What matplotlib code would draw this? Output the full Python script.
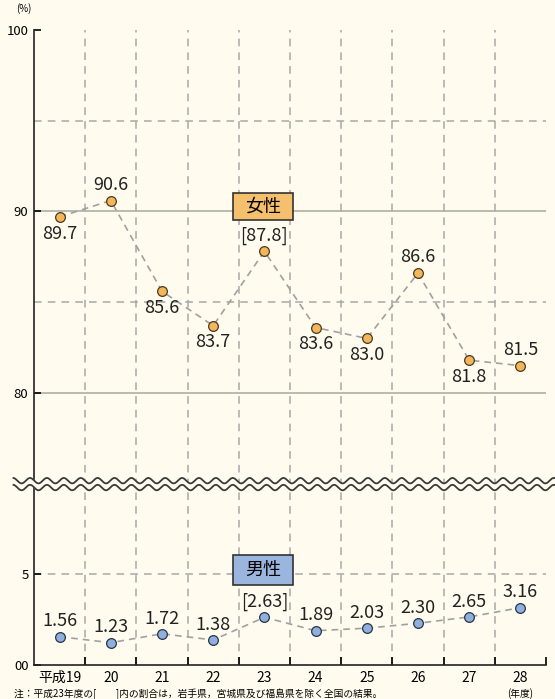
import numpy as np
import matplotlib.pyplot as plt
from matplotlib.patches import Rectangle

plt.rcParams['font.family'] = ['Noto Sans CJK JP', 'DejaVu Sans']

#%% data
years = ['平成19', '20', '21', '22', '23', '24', '25', '26', '27', '28']
female = [89.7, 90.6, 85.6, 83.7, 87.8, 83.6, 83.0, 86.6, 81.8, 81.5]
male = [1.56, 1.23, 1.72, 1.38, 2.63, 1.89, 2.03, 2.30, 2.65, 3.16]
female_txt = ['89.7', '90.6', '85.6', '83.7', '[87.8]', '83.6', '83.0', '86.6', '81.8', '81.5']
male_txt = ['1.56', '1.23', '1.72', '1.38', '[2.63]', '1.89', '2.03', '2.30', '2.65', '3.16']
female_above = [False, True, False, False, True, False, False, True, False, True]

shift = 65  # upper part (75-100) drawn at value - 65
bg = '#fffcef'

fig = plt.figure(figsize=(5.55, 6.99), dpi=100, facecolor=bg)
ax = fig.add_axes([34/555, 34/699, 512/555, 635/699])
ax.set_facecolor(bg)
ax.set_xlim(-0.5, 9.5)
ax.set_ylim(0, 35)

x = np.arange(len(years))
fy = np.array(female) - shift

# grid
for g in [25, 15]:
    ax.axhline(g, color='#b4b4aa', lw=1.3, zorder=1)
for g in [30, 20, 5]:
    ax.axhline(g, color='#a8a8a8', lw=1.1, ls=(0, (5, 4)), zorder=1)
for b in np.arange(0.5, 9.5, 1):
    ax.axvline(b, color='#a8a8a8', lw=1.1, ls=(0, (5, 4)), zorder=1)

# break lines
xw = np.linspace(-0.9, 9.75, 600)
w = 0.15 * np.sin(xw * 2 * np.pi / 0.33)
ax.fill_between(xw, 9.78 + w, 10.16 + w, color=bg, zorder=3, clip_on=False)
ax.plot(xw, 10.16 + w, color='#3a3a3a', lw=1.3, zorder=4, clip_on=False)
ax.plot(xw, 9.78 + w, color='#3a3a3a', lw=1.3, zorder=4, clip_on=False)

# series
ax.plot(x, fy, color='#a0a0a0', lw=1.2, ls=(0, (4, 3)), zorder=5)
ax.plot(x, fy, 'o', ms=7, mfc='#f3b65a', mec='#4a3a20', mew=0.9, ls='none', zorder=6)
ax.plot(x, male, color='#a0a0a0', lw=1.2, ls=(0, (4, 3)), zorder=5)
ax.plot(x, male, 'o', ms=7, mfc='#8fb0dc', mec='#2a3448', mew=0.9, ls='none', zorder=6)

for i in range(len(x)):
    dy = 11.5 if female_above[i] else -12
    ax.annotate(female_txt[i], (x[i], fy[i]), xytext=(0, dy), textcoords='offset points',
                ha='center', va='center', fontsize=13, color='#222222', zorder=7)
    ax.annotate(male_txt[i], (x[i], male[i]), xytext=(0, 11), textcoords='offset points',
                ha='center', va='center', fontsize=13, color='#222222', zorder=7)

# label boxes
ax.add_patch(Rectangle((3.39, 24.53), 1.17, 1.49, fc='#f5c06e', ec='#333333', lw=1.2, zorder=8))
ax.text(3.975, 25.27, '女性', ha='center', va='center', fontsize=13, zorder=9)
ax.add_patch(Rectangle((3.39, 4.41), 1.17, 1.65, fc='#9ab6de', ec='#333333', lw=1.2, zorder=8))
ax.text(3.975, 5.23, '男性', ha='center', va='center', fontsize=13, zorder=9)

# axes
for s in ['top', 'right']:
    ax.spines[s].set_visible(False)
ax.spines['left'].set_color('#222222')
ax.spines['bottom'].set_color('#222222')
ax.spines['left'].set_linewidth(1.2)
ax.spines['bottom'].set_linewidth(1.2)
ax.set_yticks([0, 5, 15, 25, 35])
ax.set_yticklabels(['00', '5', '80', '90', '100'], fontsize=9.5)
ax.tick_params(axis='y', direction='in', length=5, width=1.2, pad=4)
ax.set_xticks(x)
ax.set_xticklabels(years, fontsize=10)
ax.set_xticks(np.arange(0.5, 10, 1), minor=True)
ax.tick_params(axis='x', which='major', length=0, pad=4)
ax.tick_params(axis='x', which='minor', direction='in', length=6, width=1.2)

ax.text(-0.55, 36.2, '(%)', ha='right', va='center', fontsize=7)
ax.text(9, -1.55, '(年度)', ha='center', va='center', fontsize=7)
fig.text(14/555, 1 - 694/699, '注：平成23年度の[　　]内の割合は，岩手県，宮城県及び福島県を除く全国の結果。',
         fontsize=7, va='center', ha='left')

plt.savefig('out.png', dpi=100, facecolor=bg)
